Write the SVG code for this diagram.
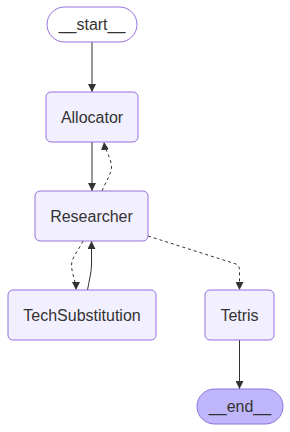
<svg xmlns="http://www.w3.org/2000/svg" width="290" height="432" viewBox="0 0 290 432">
<style>
.node rect{fill:#f2f0ff;stroke:#9370db;stroke-width:1}
.node text{font-family:"Liberation Sans",Arial,sans-serif;font-size:16px;fill:#333;text-anchor:middle;dominant-baseline:central}
.edge{fill:none;stroke:#333;stroke-width:1}
.dash{stroke-dasharray:3}
</style>
<defs>
<marker id="arrow" viewBox="0 0 10 10" refX="10" refY="5" markerUnits="userSpaceOnUse" markerWidth="8" markerHeight="8" orient="auto">
<path d="M0,0 L10,5 L0,10 z" fill="#333"/>
</marker>
</defs>
<g id="edges">
<path class="edge" d="M92,42 L92,92" marker-end="url(#arrow)"/>
<path class="edge" d="M92,142 L92,191" marker-end="url(#arrow)"/>
<path class="edge dash" d="M102,191 C106,181 112,173 111.5,166 C111,158 105,150 104,142" marker-end="url(#arrow)"/>
<path class="edge dash" d="M83,241 C79,250 71,258 71.5,266 C72,274 76,282 76,290" marker-end="url(#arrow)"/>
<path class="edge" d="M87.5,290 C89,281 91.5,272 91.5,265 L91.5,241" marker-end="url(#arrow)"/>
<path class="edge dash" d="M148,236 L236,264 Q239.5,265.5 239.5,270 L239.5,290" marker-end="url(#arrow)"/>
<path class="edge" d="M239.5,340 L239.5,389" marker-end="url(#arrow)"/>
</g>
<g id="start" class="node"><rect x="47" y="7" width="90" height="35" rx="17.5" style="fill:#ffffff"/><text x="92" y="24.5">__start__</text></g>
<g id="Allocator" class="node"><rect x="46" y="92" width="92" height="50" rx="5"/><text x="92" y="117">Allocator</text></g>
<g id="Researcher" class="node"><rect x="35" y="191" width="113" height="50" rx="5"/><text x="91.5" y="216">Researcher</text></g>
<g id="TechSubstitution" class="node"><rect x="8" y="290" width="148" height="50" rx="5"/><text x="82" y="315">TechSubstitution</text></g>
<g id="Tetris" class="node"><rect x="205" y="290" width="69" height="50" rx="5"/><text x="239.5" y="315">Tetris</text></g>
<g id="end" class="node"><rect x="197" y="389" width="86" height="35" rx="17.5" style="fill:#bfb6fc"/><text x="240" y="406.5">__end__</text></g>
</svg>
